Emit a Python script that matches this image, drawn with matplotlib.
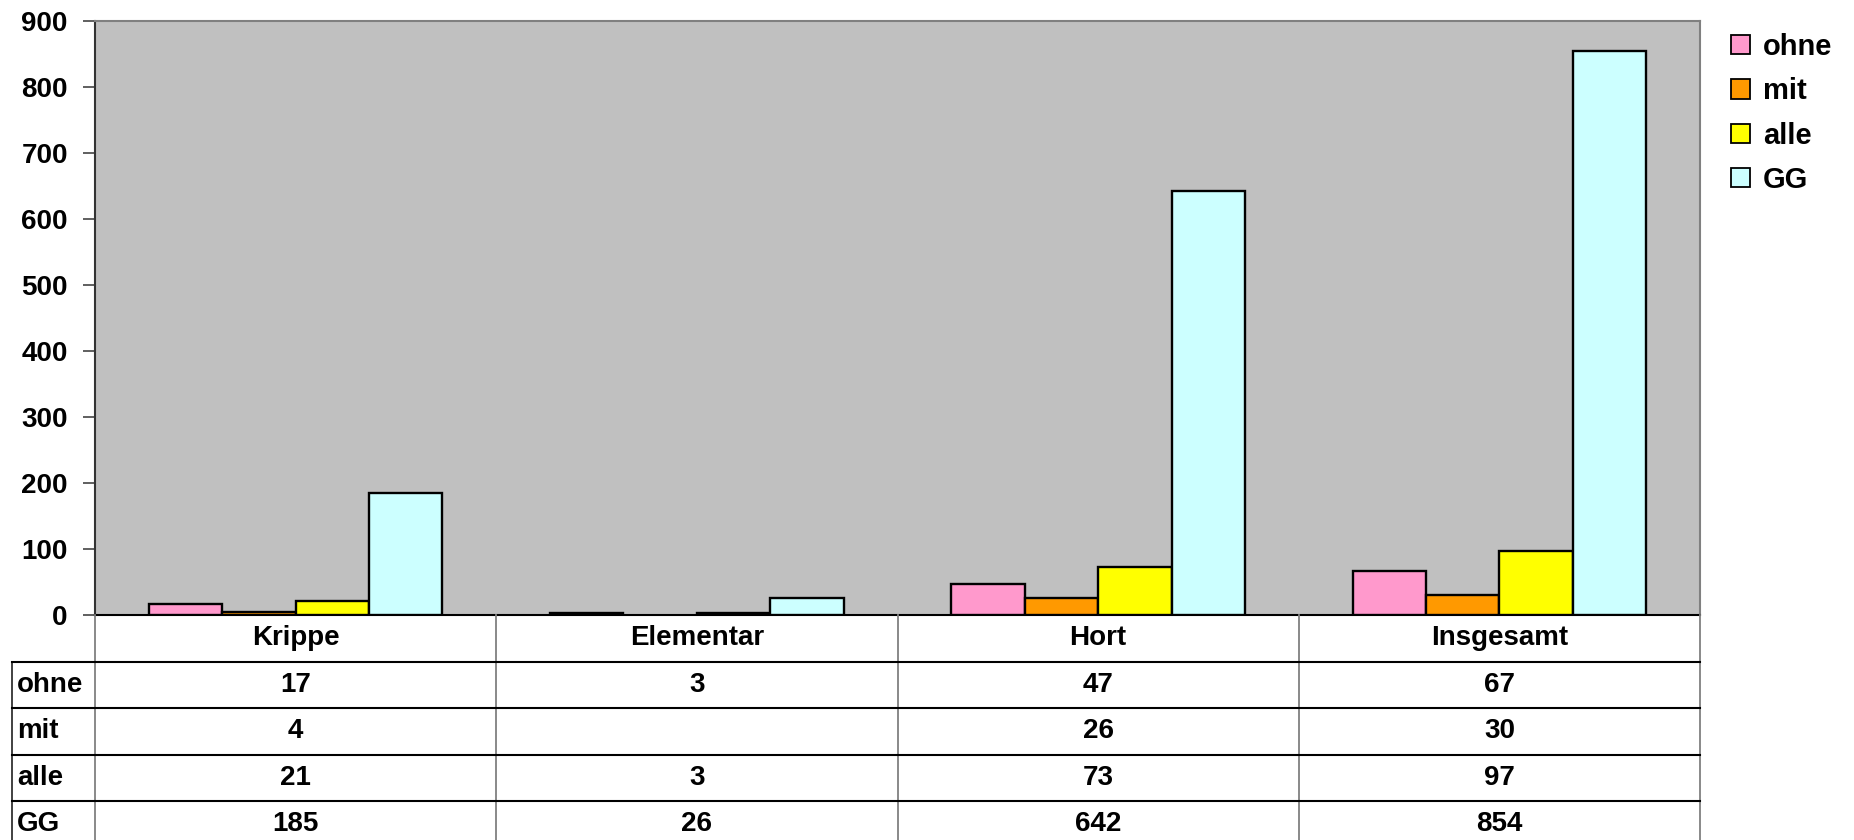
import numpy as np
from matplotlib import pyplot as plt
from matplotlib.patches import Patch

categories = ["Krippe", "Elementar", "Hort", "Insgesamt"]
series_names = ["ohne", "mit", "alle", "GG"]
ohne = [17, 3, 47, 67]
mit = [4, np.nan, 26, 30]
alle = [21, 3, 73, 97]
gg = [185, 26, 642, 854]
colors = ["#FF99CC", "#FF9900", "#FFFF00", "#CCFFFF"]

plt.rcParams['font.family'] = ['Liberation Sans', 'DejaVu Sans']
plt.rcParams['font.weight'] = 'bold'
fs = 20

fig = plt.figure(figsize=(18.54, 8.4), dpi=100)
W, H = 1854.0, 840.0

# chart area in pixel layout
left_px, right_px, top_px, zero_px = 95, 1700, 21, 615
ax = fig.add_axes([left_px / W, 1 - zero_px / H, (right_px - left_px) / W, (zero_px - top_px) / H])
ax.set_facecolor("#C0C0C0")

x = np.arange(len(categories))
w = 0.183
all_series = [ohne, mit, alle, gg]
for i, vals in enumerate(all_series):
    ax.bar(x + (i - 1.5) * w, vals, w, color=colors[i], edgecolor="black", linewidth=1.7, zorder=3)

ax.set_xlim(-0.5, 3.5)
ax.set_ylim(0, 900)
ax.set_yticks(np.arange(0, 901, 100))
ax.set_xticks([])
ax.tick_params(axis='y', direction='out', length=8.6, width=1.2, color="#444444", pad=11, labelsize=fs)
for lab in ax.get_yticklabels():
    lab.set_fontweight('bold')
for s in ["top", "right"]:
    ax.spines[s].set_color("#808080")
    ax.spines[s].set_linewidth(1.5)
ax.spines["left"].set_color("#333333")
ax.spines["left"].set_linewidth(1.5)
ax.spines["bottom"].set_color("black")
ax.spines["bottom"].set_linewidth(1.5)

# data table underneath
unit = (right_px - left_px) / 4.0
tab_left_px = 12
tx0 = -0.5 - (left_px - tab_left_px) / unit
nrows_vis = (H - zero_px) / 46.5
tab = fig.add_axes([tab_left_px / W, 0, (right_px - tab_left_px) / W, 1 - zero_px / H])
tab.set_xlim(tx0, 3.5)
tab.set_ylim(nrows_vis, 0)
tab.axis('off')

for xv in [-0.5, 0.5, 1.5, 2.5, 3.5]:
    tab.plot([xv, xv], [0, nrows_vis], color="#808080", lw=1.3, clip_on=False)
tab.plot([tx0, tx0], [1, nrows_vis], color="#333333", lw=1.3, clip_on=False)
for yv in [1, 2, 3, 4]:
    tab.plot([tx0, 3.5], [yv, yv], color="black", lw=1.5, clip_on=False)

for j, c in enumerate(categories):
    tab.text(j, 0.5, c, ha='center', va='center', fontsize=fs, fontweight='bold')
for i, (name, vals) in enumerate(zip(series_names, all_series)):
    tab.text(tx0 + 0.012, i + 1.5, name, ha='left', va='center', fontsize=fs, fontweight='bold')
    for j, v in enumerate(vals):
        if not np.isnan(v):
            tab.text(j, i + 1.5, str(int(v)), ha='center', va='center', fontsize=fs, fontweight='bold')

handles = [Patch(facecolor=colors[i], edgecolor="black", linewidth=1.3) for i in range(4)]
fig.legend(handles, series_names, loc='upper left', bbox_to_anchor=(1731 / W, 1 - 33 / H),
           frameon=False, handlelength=0.65, handleheight=0.65,
           handletextpad=0.45, labelspacing=0.56, borderaxespad=0, borderpad=0,
           prop={'weight': 'bold', 'size': fs + 1})

fig.savefig("out.png", dpi=100)
